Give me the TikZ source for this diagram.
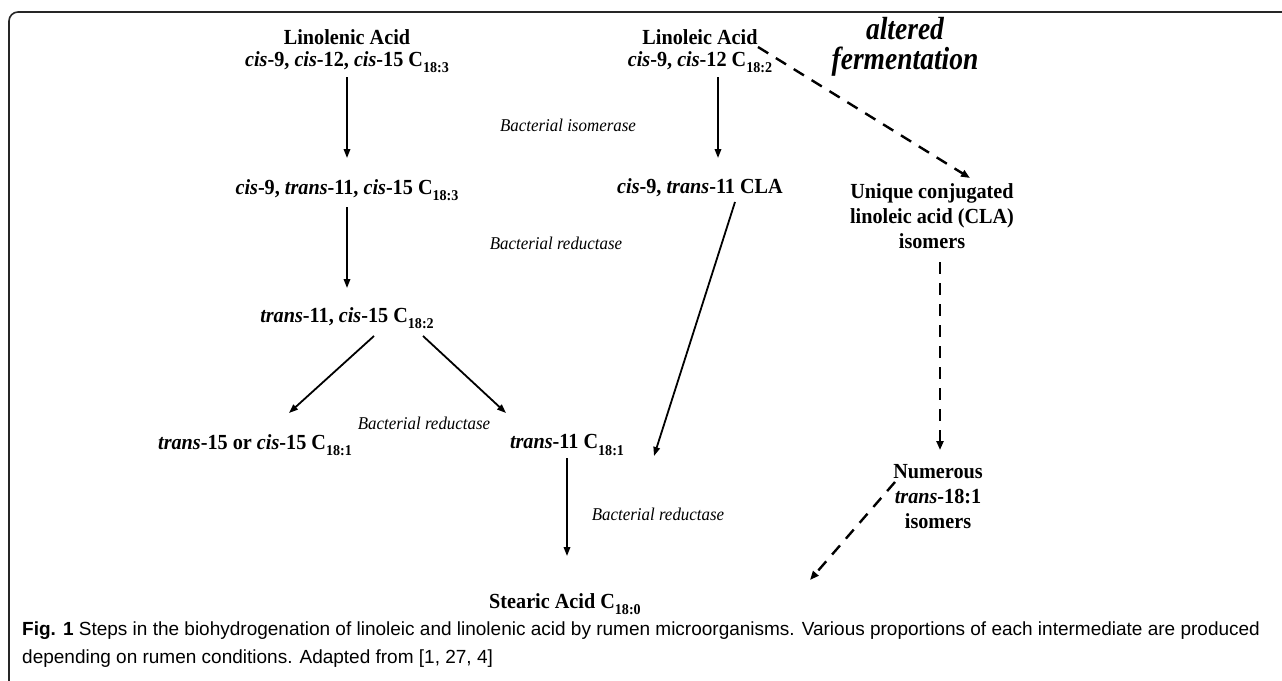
\documentclass[tikz,border=0pt]{standalone}
\usepackage{fontspec}
\setmainfont{Liberation Serif}
\newfontfamily\cserif[FakeStretch=0.94]{Liberation Serif}
\newfontfamily\aserif[FakeStretch=0.86]{Liberation Serif}
\newfontfamily\capfont{Liberation Sans}
\usetikzlibrary{arrows.meta}
\newcommand{\subs}[1]{\raisebox{-0.3em}{\fontsize{15}{15}\selectfont #1}}
\begin{document}
\begin{tikzpicture}[x=1pt,y=-1pt,
  chem/.style={font=\cserif\fontsize{21.5}{22}\selectfont\bfseries, align=center, inner sep=1pt},
  chemtall/.style={font=\cserif\fontsize{21.5}{25}\selectfont\bfseries, align=center, inner sep=1pt},
  enz/.style={font=\cserif\fontsize{18}{18}\selectfont\itshape, inner sep=0pt},
  big/.style={font=\aserif\fontsize{32}{30}\selectfont\bfseries\itshape, align=center, inner sep=0pt},
  arr/.style={line width=1.8pt, -{Triangle[length=9pt,width=6.5pt]}},
  darr/.style={line width=2.4pt, dash pattern=on 12pt off 9pt, -{Triangle[length=9pt,width=7pt]}}]
\useasboundingbox (0,0) rectangle (1282,680);
\draw[line width=1.6pt, draw=black!85, rounded corners=9pt] (9,700) -- (9,12) -- (1300,12);
% nodes
\node[chem] (lnl) at (347,51) {Linolenic Acid\\\textit{cis}-9, \textit{cis}-12, \textit{cis}-15 C\subs{18:3}};
\node[chem] (la) at (700,51) {Linoleic Acid\\\textit{cis}-9, \textit{cis}-12 C\subs{18:2}};
\node[big] (alt) at (905,47) {altered\\fermentation};
\node[chem] (c3) at (347,190) {\textit{cis}-9, \textit{trans}-11, \textit{cis}-15 C\subs{18:3}};
\node[chem] (cla) at (700,188) {\textit{cis}-9, \textit{trans}-11 CLA};
\node[chemtall] (uq) at (932,216) {Unique conjugated\\linoleic acid (CLA)\\isomers};
\node[chem] (c2) at (347,318) {\textit{trans}-11, \textit{cis}-15 C\subs{18:2}};
\node[chem] (t15) at (255,445) {\textit{trans}-15 or \textit{cis}-15 C\subs{18:1}};
\node[chem] (t11) at (567,445) {\textit{trans}-11 C\subs{18:1}};
\node[chemtall] (num) at (938,497) {Numerous\\\textit{trans}-18:1\\isomers};
\node[chem] (st) at (565,604) {Stearic Acid C\subs{18:0}};
% enzymes
\node[enz] (e1) at (568,125) {Bacterial isomerase};
\node[enz] (e2) at (556,243) {Bacterial reductase};
\node[enz] (e3) at (424,423) {Bacterial reductase};
\node[enz] (e4) at (658,514) {Bacterial reductase};
% arrows
\draw[arr] (347,77) -- (347,158);
\draw[arr] (718,77) -- (718,158);
\draw[arr] (347,207) -- (347,288);
\draw[arr] (374,336) -- (289,413);
\draw[arr] (423,336) -- (506,413);
\draw[arr] (735,202) -- (654,456);
\draw[arr] (567,458) -- (567,556);
\draw[darr] (758,47) -- (970,178);
\draw[darr] (940,262) -- (940,450);
\draw[darr] (895,482) -- (810,580);
% caption
\node[anchor=north west, align=left, inner sep=0pt, font=\capfont\fontsize{19}{28}\selectfont] (cap) at (22,622)
 {{\bfseries Fig. 1} Steps in the biohydrogenation of linoleic and linolenic acid by rumen microorganisms. Various proportions of each intermediate are produced\\
 depending on rumen conditions. Adapted from [1, 27, 4]};
\end{tikzpicture}
\end{document}
